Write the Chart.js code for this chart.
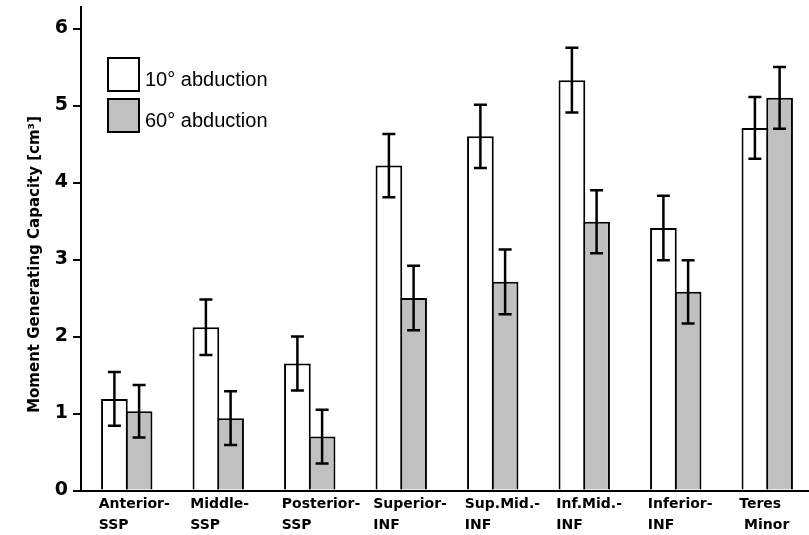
<!DOCTYPE html>
<html>
<head>
<meta charset="utf-8">
<script src="https://cdn.jsdelivr.net/npm/chart.js@4.4.0/dist/chart.umd.min.js"></script>
<style>
  html, body { margin: 0; padding: 0; background: #fff; overflow: hidden; }
  canvas { display: block; }
</style>
</head>
<body>
<canvas id="chart" width="813" height="535"></canvas>
<script>
// values
var categories = [
  ['Anterior-', 'SSP'],
  ['Middle-', 'SSP'],
  ['Posterior-', 'SSP'],
  ['Superior-', 'INF'],
  ['Sup.Mid.-', 'INF'],
  ['Inf.Mid.-', 'INF'],
  ['Inferior-', 'INF'],
  ['Teres', ' Minor']
];
var abd10   = [1.19, 2.12, 1.65, 4.22, 4.60, 5.33, 3.41, 4.71];
var abd10Sd = [0.35, 0.36, 0.35, 0.41, 0.41, 0.42, 0.42, 0.40];
var abd60   = [1.03, 0.94, 0.70, 2.50, 2.71, 3.49, 2.58, 5.10];
var abd60Sd = [0.34, 0.35, 0.35, 0.42, 0.42, 0.41, 0.41, 0.40];
var yTicks = [0, 1, 2, 3, 4, 5, 6];
var seriesNames = ['10° abduction', '60° abduction'];
var yTitle = 'Moment Generating Capacity [cm³]';

// error bars drawn from the bar elements + y scale
var errorBars = {
  id: 'errorBars',
  afterDatasetsDraw(chart) {
    const ctx = chart.ctx;
    const y = chart.scales.y;
    ctx.save();
    ctx.strokeStyle = '#000';
    ctx.lineWidth = 2.5;
    chart.data.datasets.forEach((ds, di) => {
      chart.getDatasetMeta(di).data.forEach((bar, i) => {
        const top = y.getPixelForValue(ds.data[i] + ds.sd[i]);
        const bot = y.getPixelForValue(ds.data[i] - ds.sd[i]);
        const half = 6.5;
        ctx.beginPath();
        ctx.moveTo(bar.x, top); ctx.lineTo(bar.x, bot);
        ctx.moveTo(bar.x - half, top); ctx.lineTo(bar.x + half, top);
        ctx.moveTo(bar.x - half, bot); ctx.lineTo(bar.x + half, bot);
        ctx.stroke();
      });
    });
    ctx.restore();
  }
};

// legend box inside the plot, upper left
var boxLegend = {
  id: 'boxLegend',
  afterDraw(chart) {
    const ctx = chart.ctx;
    const a = chart.chartArea;
    const x = a.left + 27;
    ctx.save();
    chart.data.datasets.forEach((ds, i) => {
      const top = a.top + 51 + i * 41;
      ctx.fillStyle = ds.backgroundColor;
      ctx.fillRect(x, top, 31, 33);
      ctx.lineWidth = 2;
      ctx.strokeStyle = '#000';
      ctx.strokeRect(x, top, 31, 33);
      ctx.fillStyle = '#000';
      ctx.font = '20px "Liberation Sans", Arial, sans-serif';
      ctx.textBaseline = 'alphabetic';
      ctx.textAlign = 'left';
      ctx.fillText(ds.label, x + 37, top + 27.5);
    });
    ctx.restore();
  }
};

new Chart(document.getElementById('chart'), {
  type: 'bar',
  data: {
    labels: categories,
    datasets: [
      {
        label: seriesNames[0],
        data: abd10,
        sd: abd10Sd,
        backgroundColor: '#ffffff',
        borderColor: '#000',
        borderWidth: 2
      },
      {
        label: seriesNames[1],
        data: abd60,
        sd: abd60Sd,
        backgroundColor: '#c0c0c0',
        borderColor: '#000',
        borderWidth: 2
      }
    ]
  },
  options: {
    responsive: false,
    animation: false,
    layout: { padding: { top: 7, left: 0, right: 0, bottom: 0 } },
    categoryPercentage: 0.54,
    barPercentage: 1.08,
    plugins: {
      legend: { display: false },
      tooltip: { enabled: false }
    },
    scales: {
      x: {
        grid: { display: false, drawTicks: false },
        border: { display: true, color: '#000', width: 2 },
        ticks: {
          color: '#000',
          font: { family: '"DejaVu Sans", sans-serif', size: 14, weight: 'bold', lineHeight: 1.5 },
          align: 'start',
          labelOffset: -28,
          padding: 3,
          maxRotation: 0,
          autoSkip: false
        },
        afterFit(scale) {
          scale.height = 44.5;
          scale.paddingLeft = 0;
          scale.paddingRight = 0;
        }
      },
      y: {
        min: 0,
        max: 6.28,
        grid: { display: true, drawOnChartArea: false, drawTicks: true, tickLength: 8, color: '#000', lineWidth: 2 },
        border: { display: true, color: '#000', width: 2 },
        ticks: {
          color: '#000',
          padding: 5,
          font: { family: '"DejaVu Sans", sans-serif', size: 19, weight: 'bold' }
        },
        afterBuildTicks(scale) {
          scale.ticks = yTicks.map(v => ({ value: v }));
        },
        title: {
          display: true,
          // trailing spaces push the centred title a little down, as in the figure
          text: yTitle + '      ',
          color: '#000',
          font: { family: '"DejaVu Sans", sans-serif', size: 15, weight: 'bold' },
          padding: { top: 26, bottom: 0 }
        },
        afterFit(scale) {
          scale.width = 81;
          scale.paddingTop = 0;
          scale.paddingBottom = 0;
        }
      }
    }
  },
  plugins: [errorBars, boxLegend]
});
</script>
</body>
</html>
